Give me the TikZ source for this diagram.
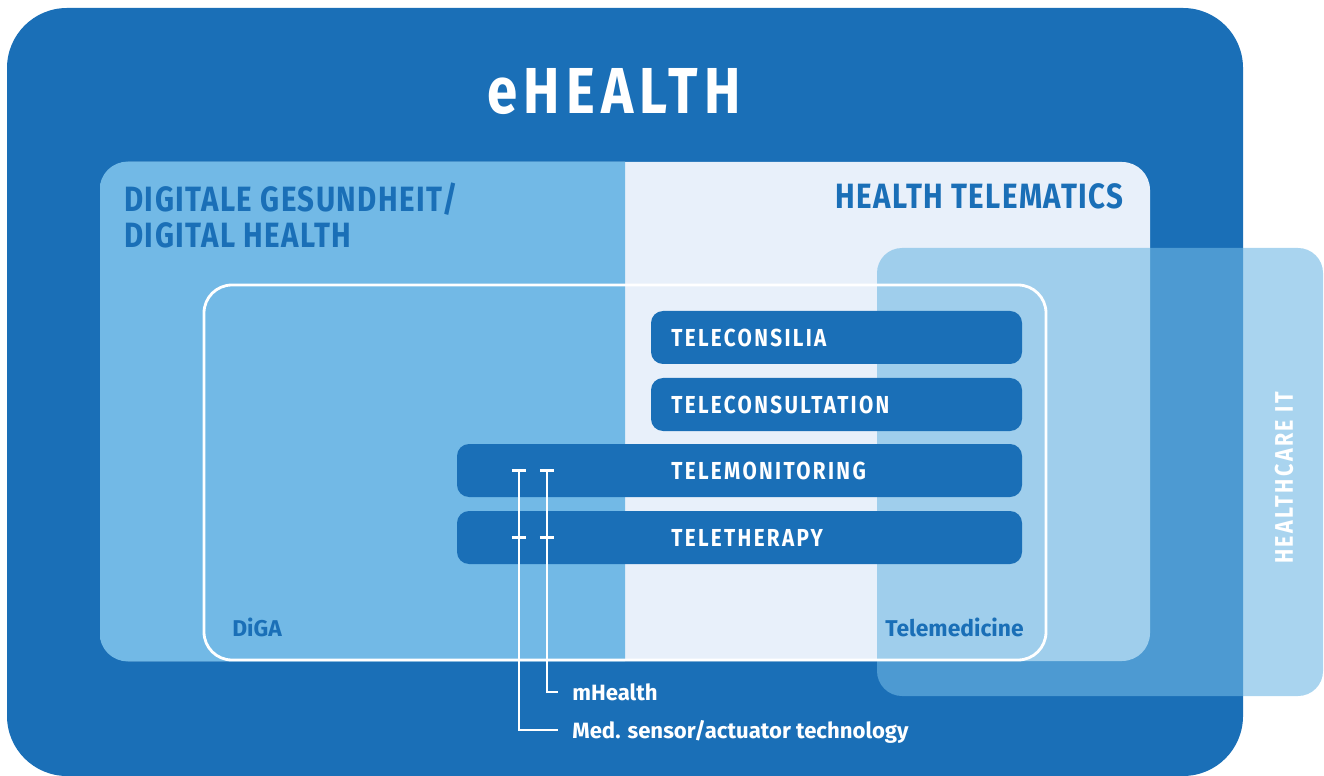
\documentclass[tikz,border=0pt]{standalone}
\usepackage{fontspec}
\setmainfont{Fira Sans}
\newfontfamily\condfont[FakeStretch=0.84,LetterSpace=4]{Fira Sans}
\newfontfamily\trackfont[FakeStretch=0.84,LetterSpace=9.5]{Fira Sans}
\usepackage{tikz}
\usetikzlibrary{positioning,fit}
\definecolor{ehblue}{HTML}{1A6FB7}
\definecolor{dhlight}{HTML}{72B9E6}
\definecolor{telematic}{HTML}{E8F0FA}
\definecolor{hcit}{HTML}{6FB8E4}
\tikzset{
    box/.style={
        inner sep=0pt,
        rounded corners=0.56cm
    },
    bar/.style={
        fill=ehblue,
        inner sep=0pt,
        rounded corners=0.24cm
    },
    bar text/.style={
        anchor=west,
        inner sep=0pt,
        text=white,
        font=\trackfont\bfseries\fontsize{14}{14}\selectfont
    },
    heading/.style={
        inner sep=0pt,
        text=ehblue,
        align=left,
        font=\condfont\bfseries\fontsize{20}{21}\selectfont
    },
    small label/.style={
        inner sep=0pt,
        text=ehblue,
        font=\bfseries\fontsize{13}{13}\selectfont
    },
    wire label/.style={
        inner sep=0pt,
        anchor=base west,
        text=white,
        font=\bfseries\fontsize{12.6}{13}\selectfont
    },
    wire/.style={white, line width=1.4pt}
}
\begin{document}
\begin{tikzpicture}[x=0.02cm,y=-0.02cm]
    \useasboundingbox (0,0) rectangle (1324,776);
    \node[box, fill=ehblue, rounded corners=1.2cm, fit={(7,8) (1243,776)}] (eh) {};
    \node[inner sep=0pt, text=white, font=\trackfont\bfseries\fontsize{37}{37}\selectfont] (title) at (614,92) {eHEALTH};
    % digital health / health telematics
    \node[box, fill=telematic, fit={(100,162) (1150,661)}] (dh) {};
    \begin{scope}
        \clip (100,162) rectangle (625,661);
        \fill[dhlight, rounded corners=0.56cm] (dh.north west) rectangle (dh.south east);
    \end{scope}
    \node[heading, anchor=north west] (dhtitle) at (124,182) {DIGITALE GESUNDHEIT/\\DIGITAL HEALTH};
    \node[heading, anchor=base east] (httitle) at (1124,209) {HEALTH TELEMATICS};
    % healthcare it
    \node[box, fill=hcit, fill opacity=0.6, rounded corners=0.5cm, fit={(877,248) (1323,696)}] (hit) {};
    \node[inner sep=0pt, rotate=90, text=white, font=\trackfont\bfseries\fontsize{14.5}{15}\selectfont] (hittitle) at (1284,478) {HEALTHCARE IT};
    % telemedicine
    \node[box, draw=white, line width=1.6pt, fit={(204,285) (1046,660)}] (tm) {};
    \node[small label, anchor=base west] (diga) at (232,636) {DiGA};
    \node[small label, anchor=base east] (telemed) at (1024,636) {Telemedicine};
    \foreach \nm/\xa/\ya/\txt in {consil/651/311/TELECONSILIA,consult/651/378/TELECONSULTATION,monit/457/444/TELEMONITORING,therap/457/511/TELETHERAPY}{
        \node[bar, fit={(\xa,\ya) (1022,\ya+53)}] (\nm) {};
        \node[bar text] (\nm-text) at (671,0 |- \nm) {\txt};
    }
    \node[wire label] (mhealth) at (572,700) {mHealth};
    \node[wire label] (sensor) at (572,738) {Med. sensor/actuator technology};
    \foreach \lbl/\xx in {mhealth/547,sensor/519}{
        \coordinate (\lbl-top) at (\xx,0 |- monit);
        \coordinate (\lbl-mid) at (\xx,0 |- therap);
        \draw[wire] ([xshift=-4pt]\lbl-top) -- ([xshift=4pt]\lbl-top);
        \draw[wire] ([xshift=-4pt]\lbl-mid) -- ([xshift=4pt]\lbl-mid);
        \draw[wire] (\lbl-top) |- ([shift={(-14,-8)}]\lbl.base west);
    }
\end{tikzpicture}
\end{document}
